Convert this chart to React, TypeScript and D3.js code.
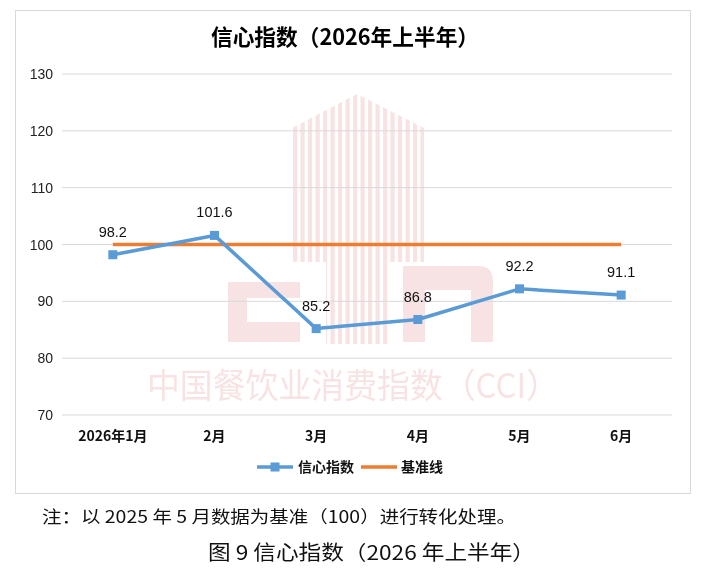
import React from 'react';
import * as d3 from 'd3';

const months = ['2026年1月', '2月', '3月', '4月', '5月', '6月'];
const confidence = [98.2, 101.6, 85.2, 86.8, 92.2, 91.1];
const baseline = [100, 100, 100, 100, 100, 100];
const yTicks = [70, 80, 90, 100, 110, 120, 130];

const W = 702;
const H = 579;
const FONT = '"Noto Sans CJK SC", "Liberation Sans", sans-serif';
const NUM = '"Liberation Sans", Arial, sans-serif';
const BLUE = '#5b9bd5';
const ORANGE = '#ed7d31';
const WM = '#f6dcdc';

const App: React.FC = () => {
  const x = d3.scaleBand<string>().domain(months).range([62, 672]);
  const y = d3.scaleLinear().domain([70, 130]).range([415, 74]);
  const cx = (m: string) => (x(m) ?? 0) + x.bandwidth() / 2;

  const line = d3
    .line<number>()
    .x((_, i) => cx(months[i]))
    .y((d) => y(d));

  // watermark building stripes
  const stripes = d3.range(293, 424, 7.5);
  const building = 'M292,128 L357,94 L424,128 L424,262 L292,262 Z';

  return (
    <div style={{ width: W, height: H, margin: -8, background: '#fff' }}>
      <svg width={W} height={H} style={{ display: 'block' }}>
        <rect x={0} y={0} width={W} height={H} fill="#fff" />
        <rect x={15.5} y={10.5} width={675} height={483} fill="#fff" stroke="#d9d9d9" />

        {/* watermark */}
        <g opacity={0.8}>
          <clipPath id="bld">
            <path d={building} />
            <rect x={326} y={120} width={62} height={224} />
          </clipPath>
          <g clipPath="url(#bld)">
            {stripes.map((s) => (
              <rect key={s} x={s} y={90} width={4.2} height={260} fill={WM} />
            ))}
          </g>
          <path
            d="M228,282 L300,282 L300,298 L247,298 L247,322 L300,322 L300,342 L228,342 Z"
            fill={WM}
          />
          <path
            d="M403,266 L478,266 Q493,266 493,281 L493,342 L471,342 L471,290 L425,290 L425,342 L403,342 Z"
            fill={WM}
          />
          <text
            x={353}
            y={398}
            textAnchor="middle"
            fontFamily={FONT}
            fontSize={34}
            fill={WM}
            textLength={412}
            lengthAdjust="spacingAndGlyphs"
          >
            中国餐饮业消费指数（CCI）
          </text>
        </g>

        <text
          x={345}
          y={45}
          textAnchor="middle"
          fontFamily={FONT}
          fontWeight="bold"
          fontSize={22}
          fill="#000"
          textLength={268}
          lengthAdjust="spacingAndGlyphs"
        >
          信心指数（2026年上半年）
        </text>

        {/* grid */}
        {yTicks.map((t) => (
          <g key={t}>
            <line x1={62} x2={672} y1={y(t)} y2={y(t)} stroke="#d9d9d9" strokeWidth={1} />
            <text
              x={53}
              y={y(t) + 5}
              textAnchor="end"
              fontFamily={NUM}
              fontSize={14}
              fill="#222"
            >
              {t}
            </text>
          </g>
        ))}

        {months.map((m) => (
          <text
            key={m}
            x={cx(m)}
            y={441}
            textAnchor="middle"
            fontFamily={FONT}
            fontWeight="bold"
            fontSize={14}
            fill="#111"
          >
            {m}
          </text>
        ))}

        {/* baseline */}
        <path d={line(baseline) ?? ''} fill="none" stroke={ORANGE} strokeWidth={3.5} />

        {/* confidence */}
        <path d={line(confidence) ?? ''} fill="none" stroke={BLUE} strokeWidth={3.5} strokeLinejoin="round" />
        {confidence.map((v, i) => (
          <g key={i}>
            <rect x={cx(months[i]) - 4.5} y={y(v) - 4.5} width={9} height={9} fill={BLUE} />
            <text
              x={cx(months[i])}
              y={y(v) - 18}
              textAnchor="middle"
              fontFamily={NUM}
              fontSize={14.5}
              fill="#111"
            >
              {v.toFixed(1)}
            </text>
          </g>
        ))}

        {/* legend */}
        <line x1={257} x2={293} y1={467} y2={467} stroke={BLUE} strokeWidth={3.5} />
        <rect x={270.5} y={462.5} width={9} height={9} fill={BLUE} />
        <text x={298} y={472} fontFamily={FONT} fontWeight="bold" fontSize={14} fill="#111">
          信心指数
        </text>
        <line x1={361} x2={397} y1={467} y2={467} stroke={ORANGE} strokeWidth={3.5} />
        <text x={401} y={472} fontFamily={FONT} fontWeight="bold" fontSize={14} fill="#111">
          基准线
        </text>

        {/* notes */}
        <text
          x={42}
          y={523}
          fontFamily={FONT}
          fontSize={17}
          fill="#111"
          textLength={474}
          lengthAdjust="spacingAndGlyphs"
        >
          注：以 2025 年 5 月数据为基准（100）进行转化处理。
        </text>
        <text
          x={208}
          y={560}
          fontFamily={FONT}
          fontSize={20}
          fill="#111"
          textLength={327}
          lengthAdjust="spacingAndGlyphs"
        >
          图 9 信心指数（2026 年上半年）
        </text>
      </svg>
    </div>
  );
};

export default App;
